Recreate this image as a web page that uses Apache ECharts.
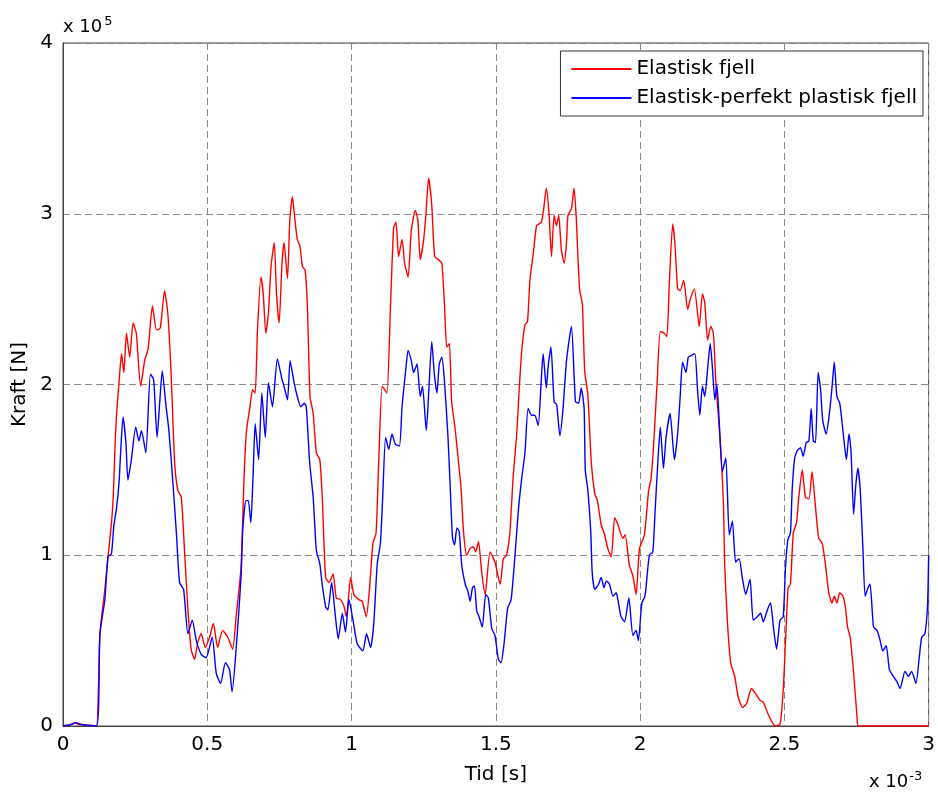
<!DOCTYPE html>
<html>
<head>
<meta charset="utf-8">
<script src="https://cdn.jsdelivr.net/npm/echarts@6/dist/echarts.min.js"></script>
<style>
html,body{margin:0;padding:0;background:#fff;}
#chart{width:938px;height:794px;}
</style>
</head>
<body>
<div id="chart"></div>
<script>
// time in units of 1e-3 s, force in units of 1e5 N
var seriesNames = ['Elastisk fjell', 'Elastisk-perfekt plastisk fjell'];
var xTicks = [0, 0.5, 1, 1.5, 2, 2.5, 3];
var yTicks = [0, 1, 2, 3, 4];

var redT = [0,0.024,0.038,0.052,0.093,0.116,0.128,0.145,0.156,0.168,0.174,0.180,0.185,0.194,0.203,0.211,0.220,0.231,0.243,0.254,0.269,0.283,0.295,0.310,0.324,0.337,0.352,0.364,0.375,0.387,0.398,0.410,0.421,0.433,0.444,0.456,0.467,0.479,0.493,0.508,0.521,0.536,0.553,0.571,0.588,0.600,0.617,
0.628,0.636,0.648,0.657,0.666,0.674,0.686,0.694,0.703,0.712,0.721,0.732,0.740,0.749,0.759,0.766,0.778,0.786,0.795,0.804,0.812,0.821,0.830,0.839,0.847,0.856,0.867,0.878,0.890,0.899,0.910,0.922,0.936,0.947,0.962,0.974,0.982,0.997,1.008,1.025,1.037,1.051,1.062,1.074,1.085,1.094,1.106,1.115,1.123,1.135,1.146,1.154,1.163,1.175,1.184,1.196,1.207,1.221,1.230,1.238,1.250,1.258,1.267,
1.278,1.288,1.302,1.313,1.322,1.330,1.339,1.347,1.359,1.371,1.380,1.388,1.399,1.411,1.422,1.430,1.440,
1.451,1.463,1.480,1.497,1.515,1.526,1.537,1.549,1.560,1.572,1.580,1.589,1.601,1.610,1.618,1.630,1.641,1.649,1.658,1.666,1.675,1.684,1.693,1.702,1.710,1.718,1.727,1.737,1.745,1.750,1.762,1.771,1.779,1.785,1.791,1.800,1.808,1.819,1.831,1.843,1.852,1.865,1.877,1.888,1.900,1.912,1.923,
1.940,1.948,1.963,1.975,1.986,1.998,2.015,2.029,2.038,2.047,2.059,2.070,2.084,2.093,2.101,2.113,2.121,2.130,2.139,2.151,2.165,2.174,2.188,2.205,2.216,2.224,2.234,2.245,2.254,2.262,2.268,2.280,2.289,2.293,2.303,2.314,2.328,2.340,2.355,2.369,2.386,2.400,2.416,2.427,2.441,2.455,2.469,2.485,
2.496,2.504,2.513,2.521,2.531,2.542,2.550,2.562,2.573,2.585,2.596,2.608,2.619,2.631,2.642,2.654,2.665,2.673,2.682,2.692,2.703,2.711,2.719,2.728,2.740,2.752,2.757,3.0];
var redV = [0,0.005,0.02,0.01,0.005,0,0.54,0.80,0.99,1.19,1.34,1.62,1.81,2.01,2.18,2.07,2.30,2.16,2.36,2.30,1.99,2.14,2.21,2.46,2.32,2.33,2.55,2.40,2.05,1.54,1.38,1.34,1.03,0.68,0.45,0.39,0.49,0.54,0.46,0.52,0.60,0.46,0.56,0.52,0.45,0.64,0.93,
1.48,1.73,1.87,1.97,1.95,2.32,2.63,2.53,2.30,2.42,2.69,2.83,2.53,2.36,2.71,2.83,2.62,2.96,3.10,2.96,2.85,2.81,2.69,2.67,2.46,1.93,1.83,1.60,1.56,1.32,0.87,0.84,0.89,0.75,0.74,0.70,0.64,0.87,0.77,0.74,0.73,0.64,0.80,1.07,1.13,1.54,1.99,1.97,1.95,2.46,2.92,2.95,2.75,2.85,2.71,2.63,2.90,3.02,2.96,2.73,2.85,3.00,3.21,
3.05,2.75,2.73,2.71,2.47,2.22,2.24,1.90,1.74,1.54,1.38,1.14,1.00,1.04,1.05,1.02,1.08,
0.90,0.77,1.02,0.96,0.83,0.98,1.00,1.14,1.46,1.70,1.94,2.18,2.35,2.37,2.61,2.77,2.93,2.94,2.95,3.03,3.15,3.01,2.75,2.99,2.93,2.99,2.79,2.71,2.83,2.99,3.03,3.15,2.97,2.73,2.55,2.47,2.08,1.94,1.54,1.36,1.32,1.18,1.12,1.04,0.99,1.22,1.18,
1.10,1.12,0.94,0.88,0.77,1.04,1.12,1.37,1.45,1.65,2.01,2.31,2.30,2.28,2.58,2.94,2.82,2.56,2.55,2.61,2.44,2.50,2.56,2.34,2.53,2.48,2.26,2.34,2.30,2.03,1.89,1.61,1.30,0.95,0.60,0.37,0.29,0.17,0.11,0.13,0.22,0.19,0.15,0.14,0.08,0.03,0.0,0.01,
0.21,0.50,0.81,0.83,1.13,1.19,1.34,1.50,1.34,1.33,1.49,1.28,1.10,1.07,0.95,0.78,0.72,0.76,0.72,0.78,0.76,0.70,0.58,0.52,0.31,0.05,0,0];

var blueT = [0,0.031,0.045,0.059,0.116,0.128,0.145,0.156,0.168,0.176,0.185,0.194,0.199,0.208,0.218,0.225,0.237,0.252,0.263,0.272,0.287,0.303,0.314,0.326,0.335,0.344,0.356,0.367,0.381,0.393,0.404,0.418,0.433,0.448,0.462,0.479,0.496,0.517,0.531,0.546,0.563,0.577,0.586,0.600,0.617,
0.623,0.634,0.642,0.651,0.659,0.666,0.678,0.689,0.701,0.712,0.726,0.743,0.759,0.766,0.778,0.787,0.801,0.812,0.824,0.836,0.843,0.855,0.867,0.878,0.890,0.899,0.910,0.918,0.931,0.943,0.954,0.968,0.979,0.991,1.005,1.020,1.039,1.052,1.066,1.077,1.089,1.100,1.108,1.118,1.129,1.140,1.152,1.166,1.175,1.187,1.196,1.207,1.215,1.227,1.238,1.246,1.259,
1.267,1.278,1.287,1.296,1.304,1.313,1.322,1.334,1.342,1.350,1.357,1.365,1.373,1.382,1.394,1.403,1.411,1.419,1.426,1.434,
1.440,1.453,1.465,1.474,1.486,1.497,1.509,1.518,1.529,1.541,1.553,1.566,1.578,1.589,1.601,1.612,1.624,1.635,1.647,1.656,1.664,1.675,1.681,1.691,1.702,1.711,1.722,1.733,1.745,1.762,1.776,1.787,1.796,1.806,1.810,1.819,1.829,1.834,1.843,1.856,1.865,1.875,1.883,1.894,1.906,1.917,
1.923,1.934,1.946,1.961,1.975,1.986,1.994,2.006,2.017,2.032,2.044,2.052,2.061,2.070,2.081,2.090,2.104,2.119,2.130,2.139,2.147,2.159,2.167,2.178,2.190,2.199,2.207,2.216,2.224,2.234,2.243,2.251,2.259,2.266,2.274,2.285,2.297,2.309,2.320,2.331,2.343,2.355,2.366,2.381,2.392,
2.406,2.418,2.427,2.441,2.452,2.462,2.473,2.485,2.496,2.504,2.512,2.521,2.527,2.535,2.544,2.556,2.565,2.576,2.585,2.593,2.600,2.608,2.617,2.625,2.633,2.645,2.656,2.665,2.673,2.682,2.692,2.703,2.715,2.724,2.731,2.740,2.748,2.755,2.763,2.772,2.780,2.790,2.797,2.809,2.821,2.832,2.841,2.853,2.864,2.878,2.890,2.901,2.918,2.930,2.941,2.956,2.968,2.976,2.987,2.996,3.0];
var blueV = [0,0.01,0.02,0.01,0,0.54,0.74,0.99,1.01,1.17,1.27,1.42,1.58,1.81,1.66,1.44,1.56,1.75,1.67,1.73,1.60,2.06,2.03,1.69,1.89,2.08,1.89,1.73,1.42,1.13,0.84,0.80,0.54,0.62,0.50,0.42,0.40,0.52,0.31,0.25,0.37,0.33,0.20,0.45,0.87,
1.15,1.32,1.32,1.19,1.48,1.77,1.56,1.95,1.69,2.01,1.87,2.15,2.03,1.99,1.91,2.14,2.01,1.93,1.87,1.89,1.87,1.54,1.34,1.03,0.95,0.82,0.70,0.68,0.84,0.66,0.51,0.66,0.55,0.74,0.62,0.48,0.44,0.54,0.46,0.60,0.95,1.07,1.34,1.69,1.62,1.71,1.65,1.64,1.87,2.07,2.20,2.14,2.07,2.12,1.93,1.99,1.73,
1.94,2.25,2.06,1.95,2.12,2.16,2.02,1.70,1.40,1.10,1.06,1.16,1.14,0.94,0.83,0.79,0.73,0.81,0.82,0.67,
0.65,0.58,0.77,0.75,0.57,0.53,0.39,0.37,0.49,0.69,0.74,0.99,1.26,1.44,1.60,1.86,1.82,1.82,1.76,1.98,2.18,1.98,2.10,2.22,1.90,1.88,1.70,1.86,2.14,2.34,1.90,1.89,1.98,1.86,1.50,1.38,1.14,0.90,0.80,0.83,0.87,0.81,0.85,0.83,0.76,0.78,
0.74,0.64,0.61,0.75,0.53,0.56,0.50,0.72,0.76,1.00,1.02,1.26,1.53,1.75,1.51,1.69,1.83,1.56,1.71,1.93,2.13,2.07,2.16,2.17,2.18,1.97,1.82,1.99,1.93,2.09,2.24,2.09,1.91,2.00,1.79,1.49,1.57,1.12,1.20,0.96,0.98,0.86,0.77,0.86,0.62,
0.64,0.66,0.61,0.68,0.72,0.58,0.45,0.62,0.64,0.93,1.09,1.13,1.38,1.56,1.61,1.63,1.58,1.66,1.67,1.86,1.67,1.66,2.07,1.98,1.79,1.71,1.83,1.98,2.13,1.93,1.89,1.73,1.56,1.71,1.61,1.24,1.42,1.51,1.38,1.05,0.76,0.81,0.83,0.58,0.56,0.50,0.44,0.47,0.33,0.29,0.26,0.22,0.32,0.29,0.32,0.25,0.41,0.52,0.54,0.70,1.00];

function zip(t, v) { var out = []; for (var i = 0; i < t.length; i++) out.push([t[i], v[i]]); return out; }

var FONT = '"DejaVu Sans", "Liberation Sans", Arial, sans-serif';
var chart = echarts.init(document.getElementById('chart'), null, {renderer: 'canvas'});
chart.setOption({
  animation: false,
  backgroundColor: '#fff',
  textStyle: {fontFamily: FONT, color: '#000'},
  grid: {left: 63, right: 6, top: 43, bottom: 68, show: true, borderColor: '#444', borderWidth: 1, backgroundColor: 'transparent', containLabel: false},
  legend: {
    orient: 'vertical', right: 15, top: 51,
    padding: [8, 6, 8, 11], itemGap: 9,
    itemWidth: 60, itemHeight: 2,
    backgroundColor: '#fff', borderColor: '#333', borderWidth: 1,
    textStyle: {fontFamily: FONT, fontSize: 20, color: '#000'},
    data: [{name: seriesNames[0], icon: 'rect'}, {name: seriesNames[1], icon: 'rect'}]
  },
  xAxis: {
    type: 'value', min: xTicks[0], max: xTicks[xTicks.length - 1], interval: 0.5,
    name: 'Tid [s]', nameLocation: 'middle', nameGap: 39,
    nameTextStyle: {fontFamily: FONT, fontSize: 20, color: '#000'},
    axisLine: {show: true, lineStyle: {color: '#444', width: 1}},
    axisTick: {show: false},
    axisLabel: {fontFamily: FONT, fontSize: 20, color: '#000', margin: 9},
    splitLine: {show: true, lineStyle: {color: '#888', type: [7, 4], width: 1}}
  },
  yAxis: {
    type: 'value', min: yTicks[0], max: yTicks[yTicks.length - 1], interval: 1,
    name: 'Kraft [N]', nameLocation: 'middle', nameGap: 32,
    nameTextStyle: {fontFamily: FONT, fontSize: 20, color: '#000'},
    axisLine: {show: true, lineStyle: {color: '#444', width: 1}},
    axisTick: {show: false},
    axisLabel: {fontFamily: FONT, fontSize: 20, color: '#000', margin: 10},
    splitLine: {show: true, lineStyle: {color: '#888', type: [7, 4], width: 1}}
  },
  series: [
    {name: seriesNames[0], type: 'line', data: zip(redT, redV), symbol: 'none', smooth: 0.2,
     lineStyle: {color: '#ff0000', width: 1.4}, itemStyle: {color: '#ff0000'}, z: 3},
    {name: seriesNames[1], type: 'line', data: zip(blueT, blueV), symbol: 'none', smooth: 0.2,
     lineStyle: {color: '#0000ff', width: 1.4}, itemStyle: {color: '#0000ff'}, z: 4}
  ],
  graphic: [
    {type: 'text', left: 63, top: 15, style: {text: '{a|x 10}{b|5}', rich: {a: {fontFamily: FONT, fontSize: 18, fill: '#000'}, b: {fontFamily: FONT, fontSize: 13, fill: '#000', verticalAlign: 'top', padding: [0, 0, 12, 2]}}}},
    {type: 'text', left: 869, top: 770, style: {text: '{a|x 10}{b|-3}', rich: {a: {fontFamily: FONT, fontSize: 18, fill: '#000'}, b: {fontFamily: FONT, fontSize: 13, fill: '#000', verticalAlign: 'top', padding: [0, 0, 12, 1]}}}}
  ]
});
</script>
</body>
</html>
